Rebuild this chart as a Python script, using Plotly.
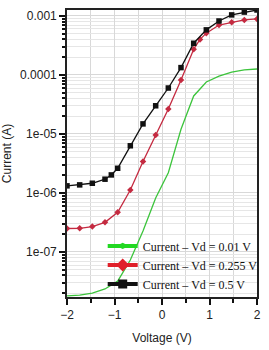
import plotly.graph_objects as go

# Data
v_black = [-2, -1.733, -1.467, -1.2, -1.067, -0.933, -0.667, -0.4, -0.133, 0.133, 0.4, 0.667, 0.933, 1.2, 1.467, 1.733, 2]
i_black = [1.32e-6, 1.37e-6, 1.46e-6, 1.71e-6, 2.02e-6, 2.62e-6, 6.3e-6, 1.48e-5, 3.0e-5, 6.0e-5, 1.33e-4, 3.44e-4, 5.8e-4, 8.2e-4, 1.04e-3, 1.16e-3, 1.26e-3]

v_red = [-2, -1.733, -1.467, -1.2, -0.933, -0.667, -0.4, -0.133, 0.133, 0.4, 0.667, 0.8, 0.933, 1.2, 1.467, 1.733, 2]
i_red = [2.5e-7, 2.52e-7, 2.69e-7, 3.18e-7, 4.71e-7, 1.12e-6, 3.4e-6, 9.6e-6, 2.65e-5, 8.2e-5, 2.73e-4, 4.0e-4, 5.1e-4, 7.0e-4, 7.8e-4, 8.55e-4, 8.9e-4]

v_green = [-2, -1.733, -1.467, -1.2, -0.933, -0.667, -0.4, -0.133, 0.133, 0.4, 0.667, 0.933, 1.2, 1.467, 1.733, 2]
i_green = [1.8e-8, 1.85e-8, 2.0e-8, 2.36e-8, 3.2e-8, 7.3e-8, 2.27e-7, 8.2e-7, 2.2e-6, 1.2e-5, 4.4e-5, 7.6e-5, 9.5e-5, 1.12e-4, 1.22e-4, 1.26e-4]

names = ["Current \u2013 Vd = 0.01 V", "Current \u2013 Vd = 0.255 V", "Current \u2013 Vd = 0.5 V"]
y_tickvals = [1e-3, 1e-4, 1e-5, 1e-6, 1e-7]
y_ticktext = ["0.001", "0.0001", "1e-05", "1e-06", "1e-07"]
x_tickvals = [-2, -1, 0, 1, 2]

GREEN = "#3cc43c"
GREEN_LEG = "#22d822"
RED = "#c42a40"
RED_LEG = "#e0202a"
BLACK = "#111111"

fig = go.Figure()
fig.add_trace(go.Scatter(x=v_green, y=i_green, mode="lines", line=dict(color=GREEN, width=1.3), showlegend=False))
fig.add_trace(go.Scatter(x=v_red, y=i_red, mode="lines+markers", line=dict(color=RED, width=1.3),
                         marker=dict(symbol="diamond", size=5, color=RED), showlegend=False))
fig.add_trace(go.Scatter(x=v_black, y=i_black, mode="lines+markers", line=dict(color=BLACK, width=1.3),
                         marker=dict(symbol="square", size=5.5, color=BLACK), showlegend=False))

# legend-only entries
fig.add_trace(go.Scatter(x=[None], y=[None], mode="lines+markers", name=names[0],
                         line=dict(color=GREEN_LEG, width=4), marker=dict(symbol="diamond-wide", size=9, color=GREEN_LEG)))
fig.add_trace(go.Scatter(x=[None], y=[None], mode="lines+markers", name=names[1],
                         line=dict(color=RED_LEG, width=4), marker=dict(symbol="diamond", size=10, color=RED_LEG)))
fig.add_trace(go.Scatter(x=[None], y=[None], mode="lines+markers", name=names[2],
                         line=dict(color=BLACK, width=4), marker=dict(symbol="square", size=9, color=BLACK)))

fig.update_layout(
    width=269, height=350,
    margin=dict(l=65, r=6, t=10, b=53),
    paper_bgcolor="white", plot_bgcolor="white",
    font=dict(family="Liberation Sans, Arial", size=12, color="#222"),
    legend=dict(x=1.03, y=-0.005, xanchor="right", yanchor="bottom", bgcolor="rgba(255,255,255,0)",
                font=dict(family="Liberation Serif, Times New Roman", size=12, color="#111"),
                itemwidth=30, borderwidth=0),
    xaxis=dict(range=[-2, 2], tickvals=x_tickvals, ticks="outside", ticklen=6, tickwidth=1.5, tickcolor="#111",
               showline=True, linecolor="#222", linewidth=1.6, mirror=True,
               showgrid=True, gridcolor="#d8d8d8", gridwidth=1, zeroline=False,
               minor=dict(dtick=0.5, ticks="outside", ticklen=4, tickcolor="#111", showgrid=True, gridcolor="#d8d8d8"),
               title=dict(text="Voltage (V)", font=dict(size=12), standoff=12),
               tickfont=dict(size=12)),
    yaxis=dict(type="log", range=[-7.763, -2.9], tickvals=y_tickvals, ticktext=y_ticktext,
               ticks="outside", ticklen=6, tickwidth=1.5, tickcolor="#111",
               showline=True, linecolor="#222", linewidth=1.6, mirror=True,
               showgrid=True, gridcolor="#d8d8d8", zeroline=False,
               minor=dict(dtick="D1", ticks="outside", ticklen=3, tickcolor="#111", showgrid=True, gridcolor="#e6e6e6"),
               title=dict(text="Current (A)", font=dict(size=12), standoff=6),
               tickfont=dict(size=12)),
)

fig.write_html("out.html")
